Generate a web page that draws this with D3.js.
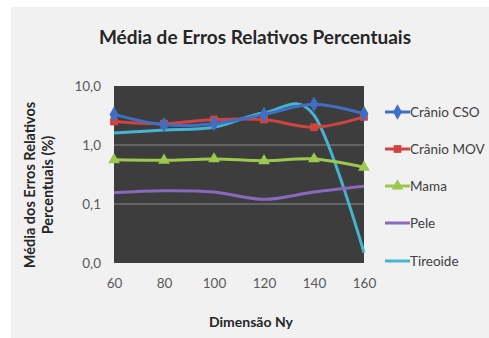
<!DOCTYPE html>
<html>
<head>
<meta charset="utf-8">
<script src="https://cdn.jsdelivr.net/npm/d3@7"></script>
<style>
  body { margin: 0; background: #fff; }
  text { font-family: Lato, "Open Sans", sans-serif; }
</style>
</head>
<body>
<div class="container"></div>
<script>
const WIDTH = 489;
const HEIGHT = 338;
const PLOT = {left: 114, right: 364, top: 86, bottom: 263};

// data
const dims = [60, 80, 100, 120, 140, 160];
const cranioCSO = [3.3, 2.2, 2.3, 3.3, 4.9, 3.4];
const cranioMOV = [2.5, 2.3, 2.7, 2.7, 2.0, 3.0];
const mama = [0.56, 0.55, 0.58, 0.54, 0.58, 0.42];
const pele = [0.155, 0.168, 0.16, 0.12, 0.16, 0.2];
const tireoide = [1.6, 1.8, 2.0, 3.5, 3.2, 0.015];
const yTicks = [0.01, 0.1, 1, 10];
const yTickLabels = ["0,0", "0,1", "1,0", "10,0"];

const series = [
  {name: "Crânio CSO", values: cranioCSO, color: "#3f6fc4", marker: "diamond"},
  {name: "Crânio MOV", values: cranioMOV, color: "#d0443f", marker: "square"},
  {name: "Mama", values: mama, color: "#9cc84e", marker: "triangle"},
  {name: "Pele", values: pele, color: "#8a68bd", marker: null},
  {name: "Tireoide", values: tireoide, color: "#45b4d0", marker: null}
];

var xScale = d3.scaleLinear()
    .domain([60, 160])
    .range([PLOT.left, PLOT.right]);

var yScale = d3.scaleLog()
    .domain([0.01, 10])
    .range([PLOT.bottom, PLOT.top]);

var svg = d3.select('.container').append('svg')
    .attr('width', WIDTH)
    .attr('height', HEIGHT);

// chart background
svg.append('rect')
    .attr('x', 11).attr('y', 7)
    .attr('width', WIDTH - 11).attr('height', HEIGHT - 7)
    .attr('fill', '#f1f1f1');

// plot area
svg.append('rect')
    .attr('x', PLOT.left).attr('y', PLOT.top)
    .attr('width', PLOT.right - PLOT.left).attr('height', PLOT.bottom - PLOT.top)
    .attr('fill', '#3d3d3d');

// gridlines
svg.append('g').selectAll('line')
    .data(yTicks.slice(1, 3))
    .enter().append('line')
    .attr('x1', PLOT.left).attr('x2', PLOT.right)
    .attr('y1', d => yScale(d)).attr('y2', d => yScale(d))
    .attr('stroke', '#8a8a8a').attr('stroke-width', 1);

// y axis
var yAxis = d3.axisLeft(yScale)
    .tickValues(yTicks)
    .tickFormat((d, i) => yTickLabels[i])
    .tickSize(0).tickPadding(13);

svg.append('g')
    .attr('transform', 'translate(' + PLOT.left + ',0)')
    .call(yAxis)
    .call(g => g.select('.domain').remove())
    .selectAll('text')
    .attr('font-size', 13.5).attr('fill', '#595959')
    .attr('font-family', 'Lato, sans-serif');

// x axis
var xAxis = d3.axisBottom(xScale)
    .tickValues(dims)
    .tickSize(0).tickPadding(15);

svg.append('g')
    .attr('transform', 'translate(0,' + PLOT.bottom + ')')
    .call(xAxis)
    .call(g => g.select('.domain').remove())
    .selectAll('text')
    .attr('font-size', 13.5).attr('fill', '#595959')
    .attr('font-family', 'Lato, sans-serif');

// lines
var line = d3.line()
    .x((d, i) => xScale(dims[i]))
    .y(d => yScale(d))
    .curve(d3.curveCatmullRom.alpha(0));

var markerPath = function(type) {
  if (type === 'diamond') return d3.symbol(d3.symbolDiamond, 70)();
  if (type === 'square') return d3.symbol(d3.symbolSquare, 60)();
  if (type === 'triangle') return d3.symbol(d3.symbolTriangle, 60)();
  return null;
};

var drawOrder = [4, 3, 2, 1, 0];
drawOrder.forEach(function(k) {
  var s = series[k];
  svg.append('path')
      .datum(s.values)
      .attr('d', line)
      .attr('fill', 'none')
      .attr('stroke', s.color)
      .attr('stroke-width', 3);
  if (s.marker) {
    svg.append('g').selectAll('path')
        .data(s.values)
        .enter().append('path')
        .attr('d', markerPath(s.marker))
        .attr('transform', (d, i) => 'translate(' + xScale(dims[i]) + ',' + yScale(d) + ')')
        .attr('fill', s.color);
  }
});

// title
svg.append('text')
    .attr('x', 255).attr('y', 44)
    .attr('text-anchor', 'middle')
    .attr('font-size', 19).attr('font-weight', 'bold')
    .attr('fill', '#262626')
    .text('Média de Erros Relativos Percentuais');

// axis titles
svg.append('text')
    .attr('x', 251).attr('y', 327)
    .attr('text-anchor', 'middle')
    .attr('font-size', 14).attr('font-weight', 'bold')
    .attr('fill', '#262626')
    .text('Dimensão Ny');

var yTitle = svg.append('text')
    .attr('transform', 'translate(35,185) rotate(-90)')
    .attr('text-anchor', 'middle')
    .attr('font-size', 14.5).attr('font-weight', 'bold')
    .attr('fill', '#262626');
yTitle.append('tspan').attr('x', 0).attr('y', 0).text('Média dos Erros Relativos');
yTitle.append('tspan').attr('x', 0).attr('y', 18).text('Percentuais (%)');

// legend
var legendY = [112, 149, 186, 223, 261];
var legend = svg.append('g').selectAll('g')
    .data(series)
    .enter().append('g')
    .attr('transform', (d, i) => 'translate(385,' + legendY[i] + ')');

legend.append('line')
    .attr('x1', 0).attr('x2', 25)
    .attr('stroke', d => d.color).attr('stroke-width', 3);
legend.filter(d => d.marker).append('path')
    .attr('d', d => markerPath(d.marker))
    .attr('transform', 'translate(12.5,0)')
    .attr('fill', d => d.color);
legend.append('text')
    .attr('x', 25).attr('dy', '0.35em')
    .attr('font-size', 13.5).attr('fill', '#404040')
    .text(d => d.name);
</script>
</body>
</html>
